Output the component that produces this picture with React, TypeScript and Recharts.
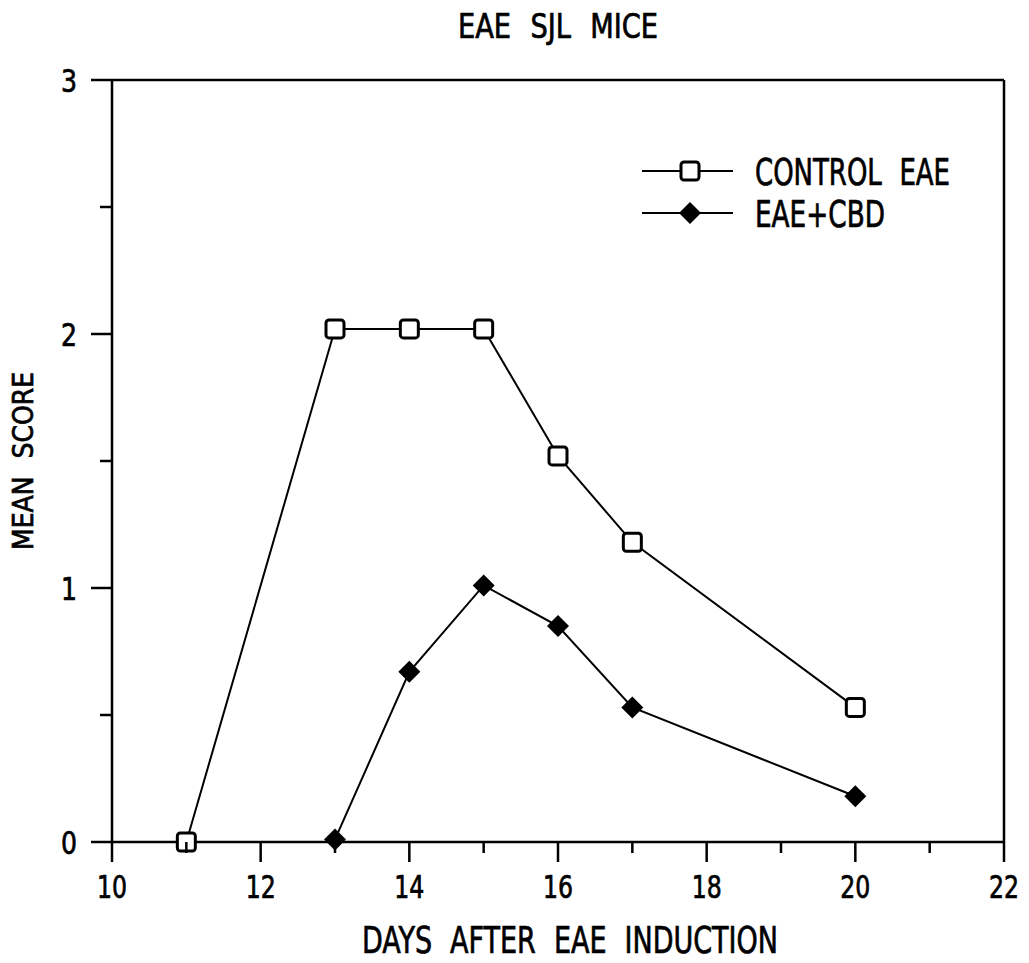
import React from "react";
import { Label, Legend, Line, LineChart, ReferenceLine, XAxis, YAxis } from "recharts";

// days and mean clinical scores
const controlDays = [11, 13, 14, 15, 16, 17, 20];
const controlEae = [0, 2.02, 2.02, 2.02, 1.52, 1.18, 0.53];
const cbdDays = [13, 14, 15, 16, 17, 20];
const eaeCbd = [0.01, 0.67, 1.01, 0.85, 0.53, 0.18];

const xTicks = [10, 11, 12, 13, 14, 15, 16, 17, 18, 19, 20, 21, 22];
const yTicks = [0, 0.5, 1, 1.5, 2, 2.5, 3];

const FONT = '"Liberation Sans Narrow", "DejaVu Sans Condensed", "DejaVu Sans", sans-serif';

// the scan uses a narrow, slightly heavy lettering: squeeze glyphs to the measured widths
const textProps = {
  fontFamily: FONT,
  fill: "#000",
  stroke: "#000",
  strokeWidth: 0.7,
  lengthAdjust: "spacingAndGlyphs" as const,
};

type Row = { day: number; control?: number; cbd?: number };

const buildData = (): Row[] => {
  const allDays = Array.from(new Set([...controlDays, ...cbdDays])).sort((a, b) => a - b);
  return allDays.map((day) => {
    const ci = controlDays.indexOf(day);
    const bi = cbdDays.indexOf(day);
    return {
      day,
      control: ci >= 0 ? controlEae[ci] : undefined,
      cbd: bi >= 0 ? eaeCbd[bi] : undefined,
    };
  });
};

const data = buildData();

const SquareDot = (props: any) => {
  const { cx, cy } = props;
  if (cx == null || cy == null) return null;
  return <rect x={cx - 9} y={cy - 9} width={18} height={18} rx={3} fill="#fff" stroke="#000" strokeWidth={3} />;
};

const DiamondDot = (props: any) => {
  const { cx, cy } = props;
  if (cx == null || cy == null) return null;
  const r = 11;
  return <polygon points={`${cx},${cy - r} ${cx + r},${cy} ${cx},${cy + r} ${cx - r},${cy}`} fill="#000" />;
};

const YTick = (props: any) => {
  const { x, y, payload } = props;
  const major = Number.isInteger(payload.value);
  const len = major ? 21 : 12;
  const label = String(payload.value);
  return (
    <g>
      <line x1={x - len} x2={x} y1={y} y2={y} stroke="#000" strokeWidth={2.5} />
      {major && (
        <text x={x - 35} y={y} dy="0.36em" textAnchor="end" fontSize={32} textLength={16 * label.length} {...textProps}>
          {label}
        </text>
      )}
    </g>
  );
};

const XTick = (props: any) => {
  const { x, y, payload } = props;
  const major = payload.value % 2 === 0;
  const len = major ? 20 : 11;
  const label = String(payload.value);
  return (
    <g>
      <line x1={x} x2={x} y1={y} y2={y + len} stroke="#000" strokeWidth={2.5} />
      {major && (
        <text x={x} y={y + 56} textAnchor="middle" fontSize={32} textLength={15 * label.length} {...textProps}>
          {label}
        </text>
      )}
    </g>
  );
};

const renderLegend = () => (
  <svg width={390} height={90} style={{ overflow: "visible" }}>
    <line x1={12} x2={103} y1={26} y2={26} stroke="#000" strokeWidth={2} />
    <rect x={51} y={17} width={18} height={18} rx={3} fill="#fff" stroke="#000" strokeWidth={3} />
    <text x={125} y={40} fontSize={37} textLength={195} wordSpacing={12} {...textProps}>CONTROL EAE</text>
    <line x1={12} x2={103} y1={68} y2={68} stroke="#000" strokeWidth={2} />
    <polygon points="60,57 71,68 60,79 49,68" fill="#000" />
    <text x={125} y={82} fontSize={37} textLength={130} {...textProps}>EAE+CBD</text>
  </svg>
);

export default function App() {
  return (
    <div style={{ position: "absolute", left: 0, top: 0, width: 1029, height: 963, background: "#fff" }}>
      <svg style={{ position: "absolute", left: 0, top: 0 }} width={1029} height={60}>
        <text x={458} y={38} fontSize={34} textLength={200} wordSpacing={12} {...textProps}>
          EAE SJL MICE
        </text>
      </svg>
      <LineChart width={1029} height={963} data={data} margin={{ top: 80, right: 25, bottom: 61, left: 42 }}>
        <XAxis
          dataKey="day"
          type="number"
          domain={[10, 22]}
          ticks={xTicks}
          interval={0}
          height={60}
          tickSize={0}
          tickMargin={0}
          tickLine={false}
          tick={<XTick />}
          axisLine={{ stroke: "#000", strokeWidth: 2.5 }}
        >
          <Label
            content={(p: any) => {
              const vb = p.viewBox;
              return (
                <text x={362} y={vb.y + 111} fontSize={38} textLength={416} wordSpacing={12} {...textProps}>
                  DAYS AFTER EAE INDUCTION
                </text>
              );
            }}
          />
        </XAxis>
        <YAxis
          type="number"
          domain={[0, 3]}
          ticks={yTicks}
          interval={0}
          width={70}
          tickSize={0}
          tickMargin={0}
          tickLine={false}
          tick={<YTick />}
          axisLine={{ stroke: "#000", strokeWidth: 2.5 }}
        >
          <Label
            content={(p: any) => {
              const vb = p.viewBox;
              const cy = vb.y + vb.height / 2;
              return (
                <text
                  x={33}
                  y={cy}
                  transform={`rotate(-90, 33, ${cy})`}
                  textAnchor="middle"
                  fontSize={28}
                  textLength={178}
                  wordSpacing={10}
                  {...textProps}
                >
                  MEAN SCORE
                </text>
              );
            }}
          />
        </YAxis>
        <ReferenceLine y={3} stroke="#000" strokeWidth={2.5} />
        <ReferenceLine x={22} stroke="#000" strokeWidth={2.5} />
        <Legend
          layout="horizontal"
          verticalAlign="middle"
          align="center"
          content={renderLegend}
          wrapperStyle={{ position: "absolute", left: 630, top: 145, width: 390, height: 90 }}
        />
        <Line
          dataKey="control"
          name="CONTROL EAE"
          stroke="#000"
          strokeWidth={2}
          dot={<SquareDot />}
          activeDot={false}
          isAnimationActive={false}
        />
        <Line
          dataKey="cbd"
          name="EAE+CBD"
          stroke="#000"
          strokeWidth={2}
          dot={<DiamondDot />}
          activeDot={false}
          connectNulls
          isAnimationActive={false}
        />
      </LineChart>
    </div>
  );
}
